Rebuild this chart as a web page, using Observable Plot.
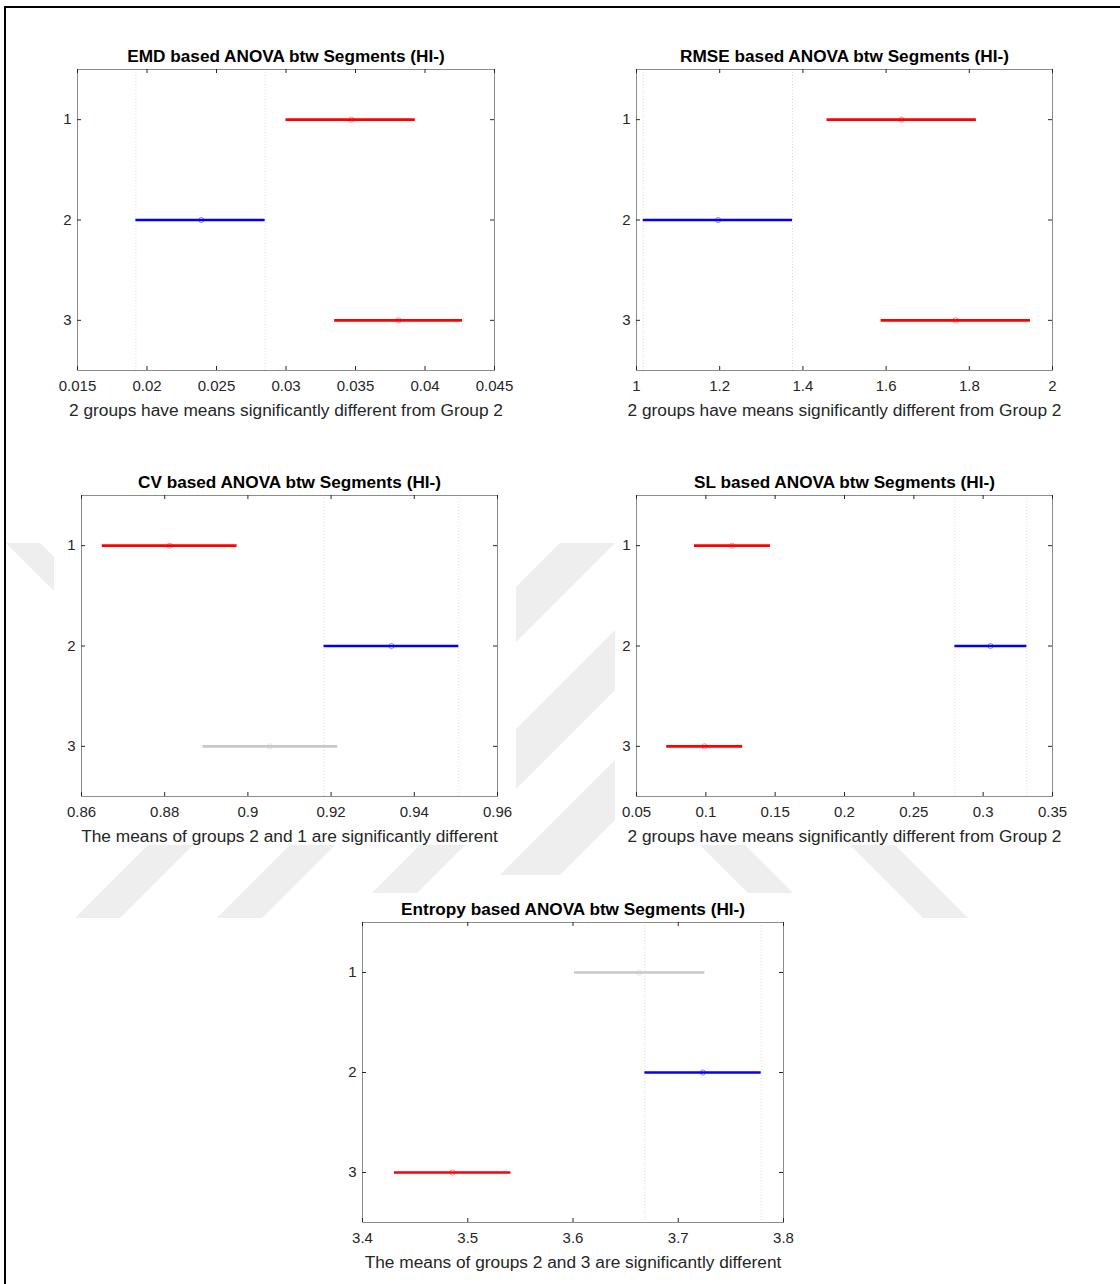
<!DOCTYPE html>
<html><head><meta charset="utf-8">
<script src="https://cdn.jsdelivr.net/npm/d3@7"></script>
<script src="https://cdn.jsdelivr.net/npm/@observablehq/plot@0.6"></script>
<style>
body{margin:0;background:#fff;}
#page{position:relative;width:1120px;height:1284px;overflow:hidden;background:#fff;font-family:"Liberation Sans",Arial,sans-serif;}
#frameline{position:absolute;left:4px;top:6px;width:1300px;height:1400px;border-top:2px solid #000;border-left:2px solid #000;}
#wm{position:absolute;left:0;top:0;}
.panel{position:absolute;}
.panel svg{display:block;}
</style></head><body><div id="page">
<svg id="wm" width="1120" height="1284" aria-hidden="true">
  <g fill="#eeeeee">
    <polygon points="6,543 40,543 110,613 76,613"/>
    <polygon points="560,543 615,543 516,642 516,587"/>
    <polygon points="615,630 615,690 516,789 516,729"/>
    <polygon points="615,760 615,820 560,875 500,875"/>
    <polygon points="148,845 193,845 120,918 75,918"/>
    <polygon points="290,845 335,845 262,918 217,918"/>
    <polygon points="420,845 465,845 417,893 372,893"/>
    <polygon points="700,845 745,845 793,893 748,893"/>
    <polygon points="850,845 895,845 968,918 923,918"/>
  </g>
</svg>
<div id="frameline"></div></div>
<script>
// ---- data ----
const groups = [1, 2, 3];

const emdTitle = "EMD based ANOVA btw Segments (HI-)";
const emdXLabel = "2 groups have means significantly different from Group 2";
const emdTicks = [0.015, 0.02, 0.025, 0.03, 0.035, 0.04, 0.045];
const emdLow = [0.0300, 0.0192, 0.0335];
const emdMean = [0.0347, 0.0239, 0.0381];
const emdHigh = [0.0393, 0.0285, 0.0427];
const emdStatus = ["diff", "sel", "diff"];

const rmseTitle = "RMSE based ANOVA btw Segments (HI-)";
const rmseXLabel = "2 groups have means significantly different from Group 2";
const rmseTicks = [1, 1.2, 1.4, 1.6, 1.8, 2];
const rmseLow = [1.458, 1.016, 1.588];
const rmseMean = [1.637, 1.196, 1.767];
const rmseHigh = [1.817, 1.375, 1.947];
const rmseStatus = ["diff", "sel", "diff"];

const cvTitle = "CV based ANOVA btw Segments (HI-)";
const cvXLabel = "The means of groups 2 and 1 are significantly different";
const cvTicks = [0.86, 0.88, 0.9, 0.92, 0.94, 0.96];
const cvLow = [0.8650, 0.9183, 0.8892];
const cvMean = [0.8812, 0.9345, 0.9053];
const cvHigh = [0.8974, 0.9507, 0.9216];
const cvStatus = ["diff", "sel", "ns"];

const slTitle = "SL based ANOVA btw Segments (HI-)";
const slXLabel = "2 groups have means significantly different from Group 2";
const slTicks = [0.05, 0.1, 0.15, 0.2, 0.25, 0.3, 0.35];
const slLow = [0.0918, 0.2796, 0.0718];
const slMean = [0.1189, 0.3053, 0.0990];
const slHigh = [0.1466, 0.3315, 0.1266];
const slStatus = ["diff", "sel", "diff"];

const entTitle = "Entropy based ANOVA btw Segments (HI-)";
const entXLabel = "The means of groups 2 and 3 are significantly different";
const entTicks = [3.4, 3.5, 3.6, 3.7, 3.8];
const entLow = [3.6014, 3.6683, 3.4304];
const entMean = [3.6629, 3.7234, 3.4855];
const entHigh = [3.7253, 3.7788, 3.5410];
const entStatus = ["ns", "sel", "diff"];

// ---- styles / layout ----
const statusColor = {sel: "#0000ff", diff: "#ff0000", ns: "#c8c8c8"};
const FONT = "'Liberation Sans', Arial, Helvetica, sans-serif";
const fmt = d => String(+d.toFixed(6));

const panels = [
  {title: emdTitle, xlabel: emdXLabel, ticks: emdTicks, lo: emdLow, mean: emdMean, hi: emdHigh, status: emdStatus,
   svgLeft: 54, svgRight: 516, svgTop: 30, boxLeft: 77, boxTop: 69, boxW: 417, boxH: 301},
  {title: rmseTitle, xlabel: rmseXLabel, ticks: rmseTicks, lo: rmseLow, mean: rmseMean, hi: rmseHigh, status: rmseStatus,
   svgLeft: 615, svgRight: 1100, svgTop: 30, boxLeft: 636, boxTop: 69, boxW: 416, boxH: 301},
  {title: cvTitle, xlabel: cvXLabel, ticks: cvTicks, lo: cvLow, mean: cvMean, hi: cvHigh, status: cvStatus,
   svgLeft: 54, svgRight: 516, svgTop: 455, boxLeft: 81, boxTop: 495, boxW: 416, boxH: 301},
  {title: slTitle, xlabel: slXLabel, ticks: slTicks, lo: slLow, mean: slMean, hi: slHigh, status: slStatus,
   svgLeft: 615, svgRight: 1100, svgTop: 455, boxLeft: 636, boxTop: 495, boxW: 416, boxH: 301},
  {title: entTitle, xlabel: entXLabel, ticks: entTicks, lo: entLow, mean: entMean, hi: entHigh, status: entStatus,
   svgLeft: 330, svgRight: 810, svgTop: 893, boxLeft: 362, boxTop: 922, boxW: 421, boxH: 300}
];

const page = document.getElementById("page");

for (const p of panels) {
  const rows = groups.map((g, i) => ({group: g, lo: p.lo[i], mean: p.mean[i], hi: p.hi[i], status: p.status[i]}));
  const sel = rows.find(r => r.status === "sel");
  const mL = p.boxLeft - p.svgLeft;
  const mT = p.boxTop - p.svgTop;
  const mR = p.svgRight - (p.boxLeft + p.boxW);
  const mB = 49;
  const W = p.svgRight - p.svgLeft;
  const H = mT + p.boxH + mB;
  const chart = Plot.plot({
    width: W, height: H,
    marginLeft: mL, marginRight: mR, marginTop: mT, marginBottom: mB,
    style: {fontFamily: FONT, fontSize: "15px", color: "#262626", background: "#fff", overflow: "visible"},
    x: {domain: [p.ticks[0], p.ticks[p.ticks.length - 1]]},
    y: {domain: [0.5, 3.5], reverse: true},
    marks: [
      Plot.ruleX([sel.lo, sel.hi], {stroke: "#dcdcdc", strokeDasharray: "1,2", strokeWidth: 1}),
      Plot.ruleY(rows, {y: "group", x1: "lo", x2: "hi", stroke: d => statusColor[d.status], strokeWidth: 2.7}),
      Plot.dot(rows, {x: "mean", y: "group", r: 2.6, stroke: d => statusColor[d.status], strokeOpacity: 0.45, strokeWidth: 1, fill: "none"}),
      Plot.frame({stroke: "#8c8c8c", strokeWidth: 1}),
      Plot.ruleX(p.ticks, {insetTop: p.boxH - 4, stroke: "#262626"}),
      Plot.ruleX(p.ticks, {insetBottom: p.boxH - 4, stroke: "#262626"}),
      Plot.ruleY(groups, {insetRight: p.boxW - 4, stroke: "#262626"}),
      Plot.ruleY(groups, {insetLeft: p.boxW - 4, stroke: "#262626"}),
      Plot.axisX({ticks: p.ticks, tickSize: 0, tickPadding: 10, tickFormat: fmt, fontSize: 15, fill: "#262626"}),
      Plot.axisY({ticks: groups, tickSize: 0, tickPadding: 6, tickFormat: d => String(d), fontSize: 15, fill: "#262626", label: null}),
      Plot.text([p.title], {frameAnchor: "top", lineAnchor: "bottom", dy: -8, fontWeight: "bold", fontSize: 17.2, fill: "#000"}),
      Plot.text([p.xlabel], {frameAnchor: "bottom", lineAnchor: "bottom", dy: 45, fontSize: 17.3, fill: "#262626"})
    ]
  });
  const wrap = document.createElement("div");
  wrap.className = "panel";
  wrap.style.left = p.svgLeft + "px";
  wrap.style.top = p.svgTop + "px";
  wrap.appendChild(chart);
  page.appendChild(wrap);
}
</script>
</body></html>
